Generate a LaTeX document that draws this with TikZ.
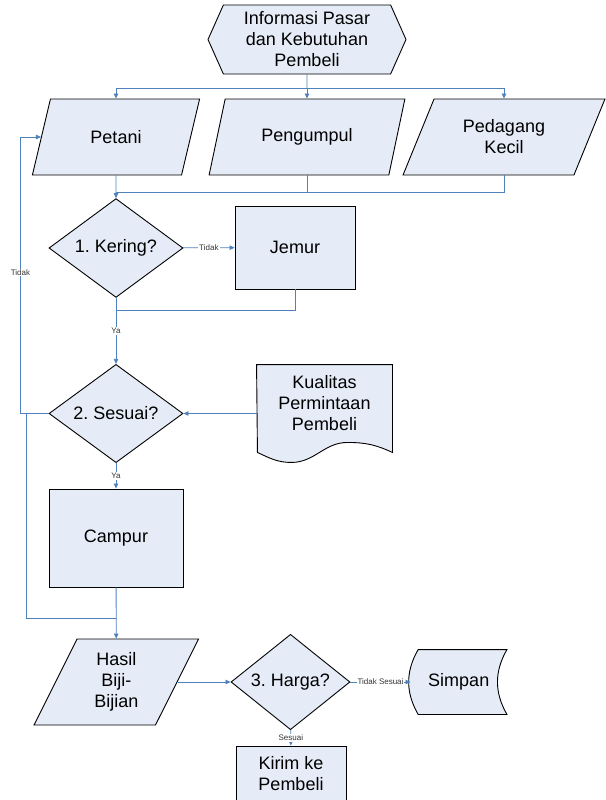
\documentclass[tikz,border=0pt]{standalone}
\usepackage{fontspec}
\setmainfont{Liberation Sans}
\usetikzlibrary{shapes.geometric, shapes.symbols, arrows.meta, backgrounds}
\definecolor{boxfill}{RGB}{230,236,247}
\definecolor{flowblue}{RGB}{79,129,189}

\begin{document}
\frenchspacing
\begin{tikzpicture}[x=1pt, y=-1pt,
  box/.style={draw=black, fill=boxfill, line width=0.9pt, inner sep=0pt, align=center, font=\fontsize{18}{21}\selectfont},
  outline/.style={draw=black, fill=boxfill, line width=0.9pt},
  hexa/.style={box, signal, signal to=east and west, signal pointer angle=132},
  io/.style={box, trapezium, trapezium left angle=62, trapezium right angle=118, trapezium stretches=true},
  decision/.style={box, diamond},
  flow/.style={draw=flowblue, line width=0.8pt},
  arr/.style={flow, -{Triangle[length=5pt, width=4.5pt]}},
  lbl/.style={fill=white, inner sep=1pt, text=black!80, font=\fontsize{8}{9}\selectfont}]
  \useasboundingbox (0,0) rectangle (605,800);

  \node[hexa, minimum width=198pt, minimum height=69pt] (info) at (307,39.5) {Informasi Pasar\\dan Kebutuhan\\Pembeli};
  \node[io, minimum width=168pt, minimum height=76pt] (petani) at (116,137) {Petani};
  \node[io, minimum width=196pt, minimum height=76pt] (pengumpul) at (307,137) {Pengumpul};
  \node[io, minimum width=202pt, minimum height=76pt] (pedagang) at (504,137) {Pedagang\\Kecil};
  \node[decision, minimum width=134pt, minimum height=82pt] (kering) at (116,248) {1. Kering?};
  \node[box, minimum width=120pt, minimum height=83pt] (jemur) at (295,247.5) {Jemur};
  \node[decision, minimum width=134pt, minimum height=83pt] (sesuai) at (116,413.5) {2. Sesuai?};
  \node[box, draw=none, fill=none, minimum width=135pt, minimum height=76pt] (kualitas) at (324.5,403) {Kualitas\\Permintaan\\Pembeli};
  \node[box, minimum width=134pt, minimum height=98pt] (campur) at (116,538) {Campur};
  \node[io, trapezium left angle=67.6, trapezium right angle=112.4, minimum width=165pt, minimum height=86pt] (hasil) at (116.3,682) {Hasil\\Biji-\\Bijian};
  \node[decision, minimum width=119pt, minimum height=80pt] (harga) at (290.5,682) {3. Harga?};
  \node[box, draw=none, fill=none, minimum width=95.5pt, minimum height=64pt] (simpan) at (458.75,682) {Simpan};
  \node[box, minimum width=110pt, minimum height=56pt] (kirim) at (291,774) {Kirim ke\\Pembeli};

  \begin{scope}[on background layer]
    \draw[outline] (kualitas.north west) -- (kualitas.north east) -- (kualitas.south east) -- ++(0,11)
      to[out=155, in=0] ++(-45,-10) to[out=180, in=0] ++(-56,20) to[out=180, in=-25] ++(-34,-10) -- cycle;
    \draw[outline] ([xshift=7.6pt]simpan.north west) -- (simpan.north east)
      to[out=240, in=120] (simpan.south east) -- ([xshift=7.6pt]simpan.south west)
      to[out=120, in=240] ([xshift=7.6pt]simpan.north west) -- cycle;
  \end{scope}

  \coordinate (topbus) at (307,88);
  \coordinate (midbus) at (116,192);
  \coordinate (jemurbus) at (116,310);
  \coordinate (loopup) at (20.5,413.5);
  \coordinate (loopdown) at (26,413.5);
  \coordinate (campurbus) at (116,618);

  \draw[flow] (info) -- (topbus);
  \draw[arr] (topbus) -| (petani);
  \draw[arr] (topbus) -- (pengumpul);
  \draw[arr] (topbus) -| (pedagang);
  \draw[flow] (pengumpul) |- (midbus);
  \draw[flow] (pedagang) |- (midbus);
  \draw[arr] (petani) -- (kering);
  \draw[arr] (kering) -- node[lbl] {Tidak} (jemur);
  \draw[flow] (jemur) |- (jemurbus);
  \draw[arr] (kering) -- node[lbl] {Ya} (sesuai);
  \draw[arr] (kualitas.west |- sesuai.east) -- (sesuai);
  \draw[arr] (sesuai) -- (loopup) |- node[lbl, pos=0.255] {Tidak} (petani.left side);
  \draw[flow] (loopdown) |- (campurbus);
  \draw[arr] (sesuai) -- node[lbl] {Ya} (campur);
  \draw[arr] (campur) -- (hasil);
  \draw[arr] (hasil.right side) -- (harga);
  \draw[arr] (harga) -- node[lbl] {Tidak Sesuai} (simpan);
  \draw[arr] (harga) -- node[lbl] {Sesuai} (kirim);
\end{tikzpicture}
\end{document}
